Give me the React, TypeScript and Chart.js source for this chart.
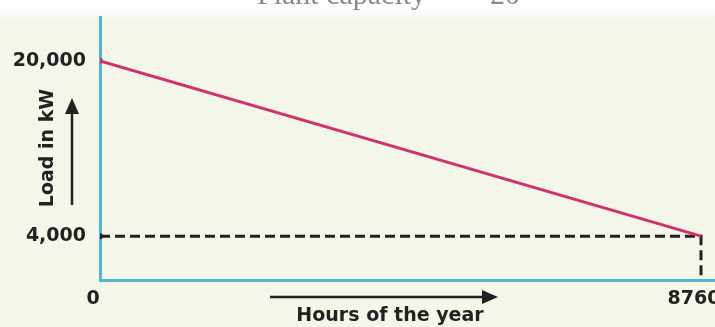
import React, { useEffect, useRef } from "react";
import { Chart, registerables } from "chart.js";

Chart.register(...registerables);

// Load-duration values
const HOURS = [0, 8760];
const LOAD_KW = [20000, 4000];
const BASE_LOAD_KW = 4000;
const Y_TICKS = [4000, 20000];
const X_TICKS = [0, 8760];
const X_MAX = 8964;
const Y_MAX = 24000;

const HEADER_LEFT = "Plant capacity =";
const HEADER_RIGHT = "20";
const Y_TITLE = "Load in kW";
const X_TITLE = "Hours of the year";

const BG = "#f3f6e8";
const AXIS = "#52b6d2";
const CURVE = "#d2306e";
const INK = "#222222";
const FONT = "DejaVu Sans";

const decor = {
  id: "decor",
  beforeDraw(chart: any) {
    const { ctx, width, height } = chart;
    ctx.save();
    ctx.fillStyle = "#ffffff";
    ctx.fillRect(0, 0, width, height);
    const g = ctx.createLinearGradient(0, 8, 0, 20);
    g.addColorStop(0, "#ffffff");
    g.addColorStop(1, BG);
    ctx.fillStyle = g;
    ctx.fillRect(0, 8, width, 12);
    ctx.fillStyle = BG;
    ctx.fillRect(0, 20, width, height - 20);

    // header caption, mostly cropped by the top edge
    ctx.fillStyle = "#8a8a8a";
    ctx.font = "30px 'Liberation Serif'";
    ctx.textBaseline = "alphabetic";
    ctx.textAlign = "left";
    ctx.fillText(HEADER_LEFT, 257, 4);
    ctx.fillText(HEADER_RIGHT, 490, 4);
    ctx.restore();
  },
  afterDraw(chart: any) {
    const { ctx } = chart;
    ctx.save();
    ctx.fillStyle = INK;
    ctx.strokeStyle = INK;
    ctx.lineWidth = 2.5;

    // vertical axis caption with upward arrow
    ctx.save();
    ctx.translate(48, 148);
    ctx.rotate(-Math.PI / 2);
    ctx.font = `bold 19px '${FONT}'`;
    ctx.textAlign = "center";
    ctx.textBaseline = "middle";
    ctx.fillText(Y_TITLE, 0, 0);
    ctx.restore();

    ctx.beginPath();
    ctx.moveTo(72, 205);
    ctx.lineTo(72, 110);
    ctx.stroke();
    ctx.beginPath();
    ctx.moveTo(72, 98);
    ctx.lineTo(65, 114);
    ctx.lineTo(79, 114);
    ctx.closePath();
    ctx.fill();

    // horizontal axis caption with rightward arrow
    ctx.beginPath();
    ctx.moveTo(270, 297);
    ctx.lineTo(485, 297);
    ctx.stroke();
    ctx.beginPath();
    ctx.moveTo(498, 297);
    ctx.lineTo(482, 290);
    ctx.lineTo(482, 304);
    ctx.closePath();
    ctx.fill();

    ctx.font = `bold 19px '${FONT}'`;
    ctx.textAlign = "center";
    ctx.textBaseline = "alphabetic";
    ctx.fillText(X_TITLE, 390, 321);
    ctx.restore();
  },
};

export default function App() {
  const ref = useRef<HTMLCanvasElement | null>(null);

  useEffect(() => {
    if (!ref.current) return;
    const chart = new Chart(ref.current, {
      type: "line",
      data: {
        datasets: [
          {
            label: "Load",
            data: HOURS.map((h, i) => ({ x: h, y: LOAD_KW[i] })),
            borderColor: CURVE,
            backgroundColor: CURVE,
            borderWidth: 3,
            pointRadius: [3, 0],
            pointBorderWidth: 0,
            order: 1,
          },
          {
            label: "Base load",
            data: [
              { x: HOURS[0], y: BASE_LOAD_KW },
              { x: HOURS[1], y: BASE_LOAD_KW },
              { x: HOURS[1], y: 0 },
            ],
            borderColor: INK,
            backgroundColor: INK,
            borderWidth: 3,
            borderDash: [10, 5],
            pointRadius: [3, 0, 0],
            pointBorderWidth: 0,
            order: 2,
          },
        ],
      },
      plugins: [decor],
      options: {
        animation: false,
        responsive: false,
        layout: { autoPadding: false, padding: { top: 17, right: 0, left: 0, bottom: 0 } },
        plugins: { legend: { display: false }, tooltip: { enabled: false } },
        scales: {
          x: {
            type: "linear",
            min: 0,
            max: X_MAX,
            grid: { display: false },
            border: { display: true, color: AXIS, width: 3 },
            afterFit(s: any) {
              s.height = 47;
              s.paddingLeft = 0;
              s.paddingRight = 0;
            },
            afterBuildTicks(s: any) {
              s.ticks = X_TICKS.map((v) => ({ value: v }));
            },
            ticks: {
              padding: 0,
              labelOffset: -7,
              autoSkip: false,
              maxRotation: 0,
              color: INK,
              font: { family: FONT, size: 19, weight: "bold" },
              callback: (v: any) => String(v),
            },
          },
          y: {
            type: "linear",
            min: 0,
            max: Y_MAX,
            grid: { display: false },
            border: { display: true, color: AXIS, width: 3 },
            afterFit(s: any) {
              s.width = 100;
              s.paddingTop = 0;
              s.paddingBottom = 0;
            },
            afterBuildTicks(s: any) {
              s.ticks = Y_TICKS.map((v) => ({ value: v }));
            },
            ticks: {
              padding: 6,
              autoSkip: false,
              color: INK,
              font: { family: FONT, size: 19, weight: "bold" },
              callback: (v: any) => Number(v).toLocaleString("en-US"),
            },
          },
        },
      },
    });
    return () => chart.destroy();
  }, []);

  return (
    <div style={{ position: "absolute", left: 0, top: 0, width: 715, height: 327 }}>
      <canvas ref={ref} width={715} height={327} style={{ display: "block" }} />
    </div>
  );
}
